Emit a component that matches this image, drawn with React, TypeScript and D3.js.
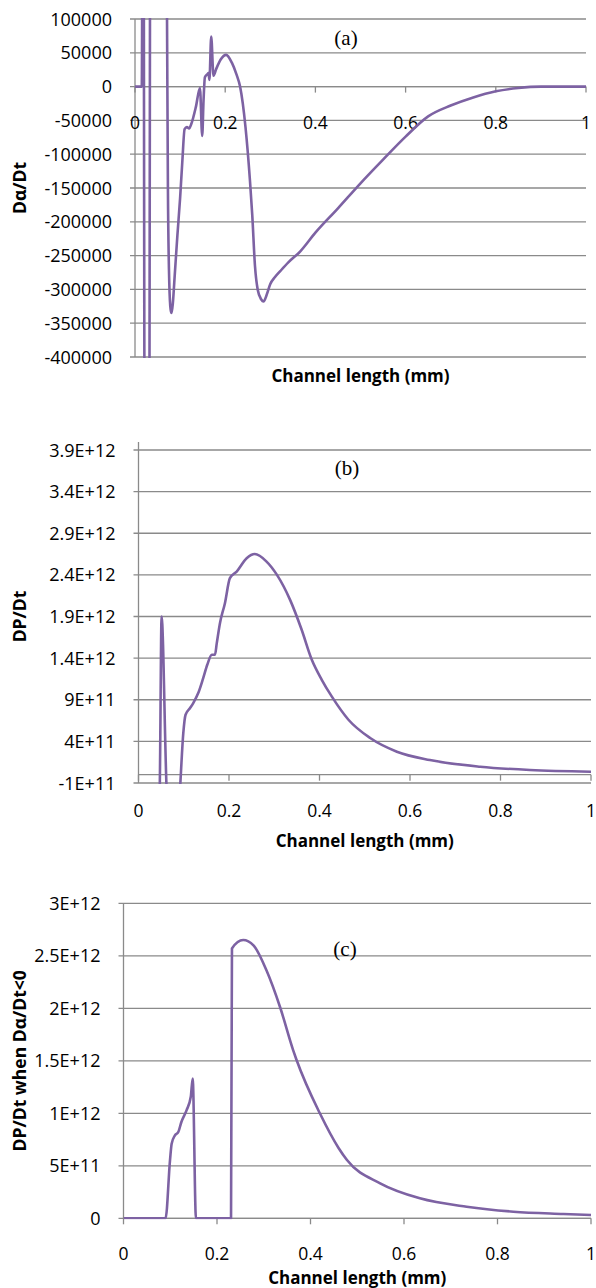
import React from "react";
import * as d3 from "d3";

// channel length ticks shared by all three panels
const xTicks = [0, 0.2, 0.4, 0.6, 0.8, 1];
const xTickLabels = ["0", "0.2", "0.4", "0.6", "0.8", "1"];

// (a) Dα/Dt
const alphaX = [0, 0.015, 0.018, 0.022, 0.031, 0.035, 0.05, 0.068, 0.071, 0.073, 0.076, 0.079, 0.081, 0.084, 0.088, 0.094, 0.1, 0.105, 0.11, 0.115, 0.12, 0.125, 0.135, 0.144, 0.149, 0.152, 0.155, 0.16, 0.163, 0.165, 0.169, 0.174, 0.18, 0.19, 0.202, 0.215, 0.225, 0.233, 0.245, 0.255, 0.26, 0.266, 0.272, 0.28, 0.285, 0.292, 0.3, 0.31, 0.322, 0.34, 0.366, 0.4, 0.45, 0.5, 0.55, 0.6, 0.65, 0.7, 0.75, 0.8, 0.85, 0.9, 1];
const alphaY = [0, 0, 600000, -700000, -700000, 700000, 700000, 400000, 100000, -150000, -290000, -330000, -335000, -320000, -280000, -220000, -165000, -110000, -63000, -60000, -62000, -55000, -30000, -2000, -73000, -20000, 14000, 18000, 20000, 10000, 74000, 16000, 26000, 40000, 47000, 35000, 18000, 0, -60000, -140000, -190000, -265000, -300000, -315000, -318000, -308000, -292000, -282000, -273000, -260000, -244000, -216000, -180000, -143000, -108000, -74000, -44000, -28000, -16000, -7000, -2000, 0, 0];
const alphaTicks = [100000, 50000, 0, -50000, -100000, -150000, -200000, -250000, -300000, -350000, -400000];
const alphaTickLabels = ["100000", "50000", "0", "-50000", "-100000", "-150000", "-200000", "-250000", "-300000", "-350000", "-400000"];

// (b) DP/Dt
const dpX = [0.044, 0.047, 0.051, 0.062, 0.07, 0.085, 0.092, 0.099, 0.104, 0.114, 0.121, 0.132, 0.143, 0.152, 0.162, 0.169, 0.173, 0.18, 0.191, 0.202, 0.217, 0.239, 0.257, 0.283, 0.306, 0.335, 0.36, 0.383, 0.405, 0.427, 0.464, 0.512, 0.571, 0.644, 0.755, 0.865, 1];
const dpY = [-6e11, -1.5e11, 1.9e12, -1.5e11, -8e11, -8e11, -1.5e11, 5e11, 7.2e11, 8e11, 8.6e11, 9.8e11, 1.16e12, 1.32e12, 1.44e12, 1.44e12, 1.58e12, 1.82e12, 2.06e12, 2.36e12, 2.44e12, 2.6e12, 2.65e12, 2.56e12, 2.4e12, 2.1e12, 1.75e12, 1.38e12, 1.14e12, 9.4e11, 6.6e11, 4.4e11, 2.76e11, 1.76e11, 9.6e10, 5.6e10, 3.6e10];
const dpTicks = [3.9e12, 3.4e12, 2.9e12, 2.4e12, 1.9e12, 1.4e12, 9e11, 4e11, -1e11];
const dpTickLabels = ["3.9E+12", "3.4E+12", "2.9E+12", "2.4E+12", "1.9E+12", "1.4E+12", "9E+11", "4E+11", "-1E+11"];

// (c) DP/Dt when Dα/Dt<0
const dpNegX = [0, 0.09, 0.0995, 0.103, 0.11, 0.117, 0.124, 0.135, 0.144, 0.148, 0.155, 0.23, 0.232, 0.256, 0.278, 0.306, 0.335, 0.363, 0.37, 0.42, 0.46, 0.478, 0.549, 0.634, 0.734, 0.834, 0.941, 1];
const dpNegY = [0, 0, 5.55e11, 7.1e11, 7.9e11, 8.2e11, 9.2e11, 1.03e12, 1.16e12, 1.33e12, 0, 0, 2.57e12, 2.65e12, 2.6e12, 2.36e12, 2.01e12, 1.6e12, 1.51e12, 1.0e12, 6.7e11, 5.55e11, 3.33e11, 1.9e11, 1.1e11, 6.3e10, 4.1e10, 3.1e10];
const dpNegTicks = [3e12, 2.5e12, 2e12, 1.5e12, 1e12, 5e11, 0];
const dpNegTickLabels = ["3E+12", "2.5E+12", "2E+12", "1.5E+12", "1E+12", "5E+11", "0"];

const FONT = "'Open Sans', sans-serif";
const GRID = "#8a8a8a";
const LINE = "#7d62a3";

function Panel(props) {
  const { id, xs, ys, ticks, labels, box, tag, tagX, tagY, yTitle, titleY, axisTop } = props;
  const x = d3.scaleLinear().domain([0, 1]).range([box.left, box.right]);
  const y = d3
    .scaleLinear()
    .domain([ticks[ticks.length - 1], ticks[0]])
    .range([box.bottom, box.top]);
  const pts = xs.map((v, i) => [v, ys[i]]);
  const line = d3
    .line()
    .x((d) => x(d[0]))
    .y((d) => y(d[1]))
    .curve(d3.curveMonotoneX);
  const y0 = y(0);
  const midY = (box.top + box.bottom) / 2;
  const midX = (box.left + box.right) / 2;

  return (
    <g>
      <defs>
        <clipPath id={id}>
          <rect x={box.left} y={box.top - 1} width={box.right - box.left + 2} height={box.bottom - box.top + 2} />
        </clipPath>
      </defs>
      {/* gridlines + y ticks */}
      {ticks.map((t, i) => (
        <g key={i}>
          <line x1={box.left - 5} x2={box.right} y1={y(t)} y2={y(t)} stroke={GRID} strokeWidth={1.3} />
          <text x={box.left - 23} y={y(t) + 6.5} textAnchor="end" fontFamily={FONT} fontSize={18} fill="#000">
            {labels[i]}
          </text>
        </g>
      ))}
      <line x1={box.left} x2={box.left} y1={axisTop ?? box.top} y2={box.bottom} stroke={GRID} strokeWidth={1.3} />
      {/* x axis sits at zero */}
      <line x1={box.left} x2={box.right} y1={y0} y2={y0} stroke={GRID} strokeWidth={1.3} />
      {xTicks.map((t, i) => (
        <g key={i}>
          <line x1={x(t)} x2={x(t)} y1={y0} y2={y0 + 6} stroke={GRID} strokeWidth={1.3} />
          <text x={x(t)} y={y0 + 42} textAnchor="middle" fontFamily={FONT} fontSize={17.5} fill="#000">
            {xTickLabels[i]}
          </text>
        </g>
      ))}
      <path d={line(pts)} fill="none" stroke={LINE} strokeWidth={2.6} strokeLinejoin="round" clipPath={`url(#${id})`} />
      <text x={tagX} y={tagY} textAnchor="middle" fontFamily="'Liberation Serif', serif" fontSize={21} fill="#000">
        {tag}
      </text>
      <text
        transform={`translate(26,${midY}) rotate(-90)`}
        textAnchor="middle"
        fontFamily={FONT}
        fontWeight="bold"
        fontSize={17.5}
        fill="#000"
      >
        {yTitle}
      </text>
      <text x={midX} y={titleY} textAnchor="middle" fontFamily={FONT} fontWeight="bold" fontSize={17} fill="#000">
        Channel length (mm)
      </text>
    </g>
  );
}

export default function App() {
  return (
    <svg width={596} height={1288} style={{ position: "absolute", left: 0, top: 0, background: "#fff" }}>
      <rect width={596} height={1288} fill="#fff" />
      <Panel
        id="clipA"
        xs={alphaX}
        ys={alphaY}
        ticks={alphaTicks}
        labels={alphaTickLabels}
        box={{ left: 135, right: 586, top: 19, bottom: 357 }}
        tag="(a)"
        tagX={346}
        tagY={45}
        yTitle="Dα/Dt"
        titleY={381.5}
      />
      <Panel
        id="clipB"
        xs={dpX}
        ys={dpY}
        ticks={dpTicks}
        labels={dpTickLabels}
        box={{ left: 138.5, right: 591, top: 450, bottom: 783 }}
        axisTop={442}
        tag="(b)"
        tagX={347}
        tagY={475}
        yTitle="DP/Dt"
        titleY={846.5}
      />
      <Panel
        id="clipC"
        xs={dpNegX}
        ys={dpNegY}
        ticks={dpNegTicks}
        labels={dpNegTickLabels}
        box={{ left: 123.5, right: 591, top: 903.3, bottom: 1218.3 }}
        tag="(c)"
        tagX={345}
        tagY={956}
        yTitle="DP/Dt when Dα/Dt<0"
        titleY={1284}
      />
    </svg>
  );
}
